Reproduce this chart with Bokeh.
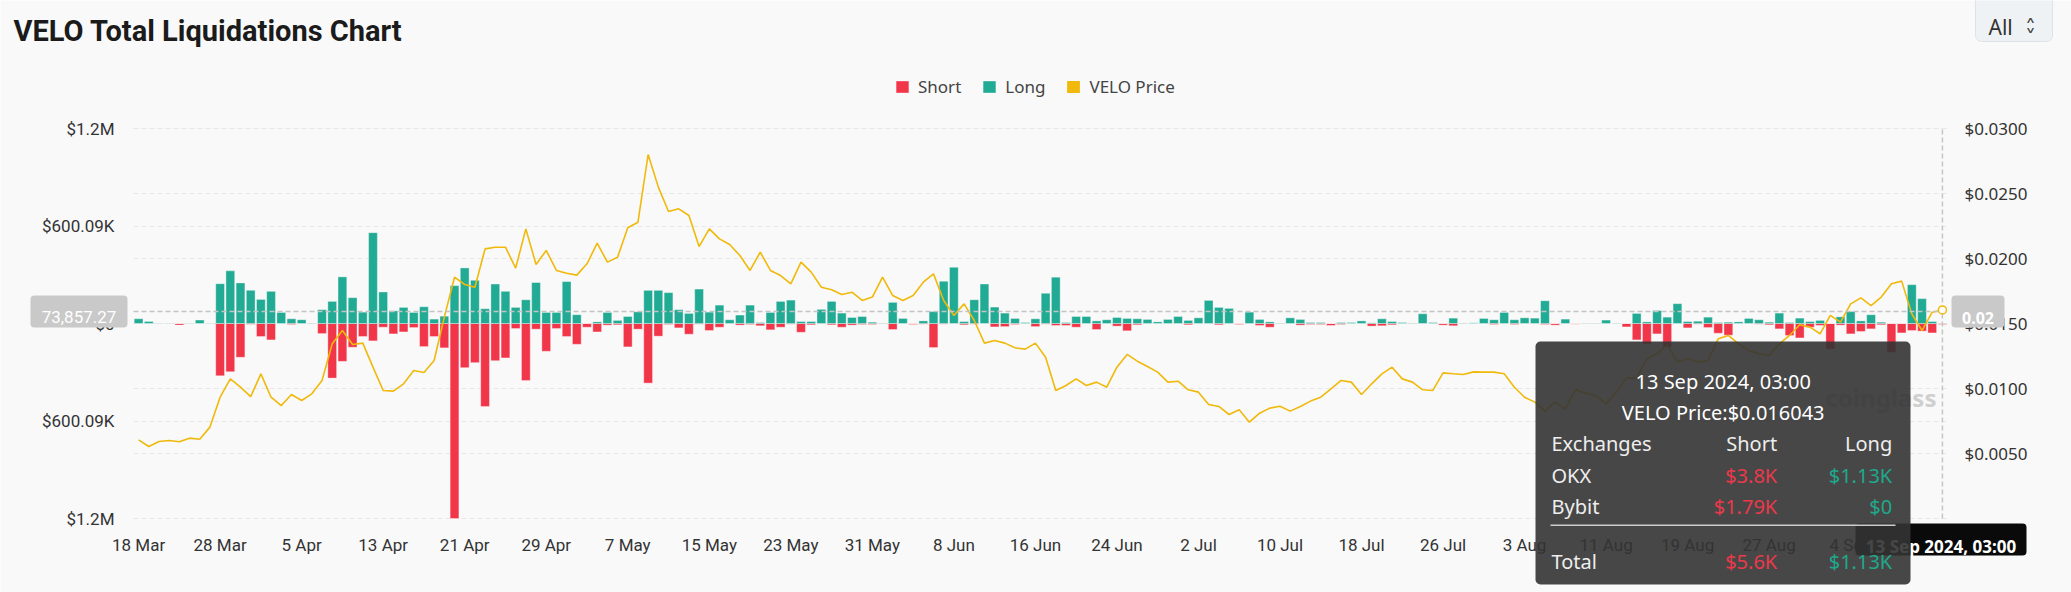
import pandas as pd
from bokeh.plotting import figure
from bokeh.models import (Range1d, LinearAxis, FixedTicker, NumeralTickFormatter, Grid,
                          Label, BoxAnnotation, Legend, LegendItem, ColumnDataSource)
from bokeh.embed import file_html
from bokeh.resources import INLINE

# ---------------- data ----------------
EARLY_DATES = ["2024-03-18", "2024-03-19", "2024-03-20", "2024-03-21",
               "2024-03-22", "2024-03-24", "2024-03-25", "2024-03-27"]
DAILY_START, DAILY_END = "2024-03-28", "2024-09-13"

# long liquidations, $K
LONG_K = [
    29, 12, 2, 1, 0, 2, 21, 2, 245, 324, 250, 204, 148, 198, 68, 29, 23, 2, 85, 136,
    287, 159, 70, 559, 194, 78, 99, 68, 103, 27, 45, 233, 342, 266, 91, 243, 198, 99, 146, 252,
    68, 68, 258, 54, 0, 10, 68, 19, 43, 72, 204, 204, 190, 85, 62, 212, 70, 113, 23, 52,
    113, 6, 68, 136, 144, 12, 12, 87, 136, 64, 37, 43, 8, 2, 130, 31, 0, 16, 74, 260,
    346, 12, 146, 243, 101, 64, 31, 6, 29, 186, 285, 6, 43, 43, 16, 23, 37, 31, 29, 25,
    10, 25, 43, 19, 35, 142, 99, 93, 0, 70, 25, 10, 2, 35, 25, 6, 6, 0, 6, 6,
    16, 4, 29, 12, 6, 2, 60, 6, 0, 33, 2, 4, 31, 23, 68, 23, 35, 33, 140, 0,
    27, 0, 2, 2, 21, 2, 0, 62, 10, 80, 39, 122, 12, 14, 39, 6, 8, 10, 31, 23,
    8, 64, 6, 33, 12, 19, 0, 41, 74, 16, 54, 8, 0, 0, 239, 153, 12, 1.13,
]
# short liquidations, $K
SHORT_K = [
    0, 0, 1, 1, 10, 1, 0, 1, 322, 297, 208, 4, 80, 101, 0, 6, 0, 2, 62, 336,
    233, 146, 80, 107, 23, 64, 52, 25, 142, 80, 150, 1200.18, 272, 241, 511, 229, 212, 31, 351, 35,
    171, 31, 80, 128, 23, 52, 10, 8, 144, 35, 367, 78, 6, 27, 66, 4, 43, 23, 0, 10,
    6, 14, 39, 23, 4, 54, 8, 1, 8, 23, 10, 6, 6, 2, 37, 0, 6, 4, 148, 4,
    0, 8, 4, 0, 21, 19, 6, 0, 19, 4, 12, 12, 23, 0, 37, 0, 16, 45, 8, 0,
    0, 0, 0, 8, 0, 0, 8, 0, 6, 0, 12, 23, 2, 0, 10, 6, 6, 12, 6, 0,
    0, 16, 14, 8, 0, 2, 0, 0, 10, 14, 2, 0, 0, 6, 0, 6, 0, 0, 6, 10,
    0, 4, 1, 1, 0, 1, 21, 101, 126, 64, 146, 0, 27, 4, 25, 60, 72, 0, 0, 4,
    8, 33, 74, 89, 23, 12, 157, 10, 64, 49, 33, 8, 177, 58, 43, 47, 58, 5.6,
]
# VELO price, $
PRICE = [
    0.00605, 0.00554, 0.00592, 0.0060, 0.0059, 0.00618, 0.0061, 0.00703, 0.00933, 0.01074,
    0.0101, 0.00938, 0.01113, 0.00933, 0.00869, 0.00954, 0.00908, 0.00959, 0.01062, 0.01344,
    0.01446, 0.01338, 0.01349, 0.01164, 0.00985, 0.0098, 0.01036, 0.01138, 0.01123, 0.01215,
    0.01549, 0.01856, 0.0180, 0.01779, 0.02074, 0.02087, 0.02087, 0.01926, 0.02228, 0.01954,
    0.02062, 0.01908, 0.01887, 0.01872, 0.01959, 0.02118, 0.01972, 0.0201, 0.02236, 0.02279,
    0.0280, 0.02549, 0.02362, 0.02382, 0.02331, 0.02092, 0.02228, 0.02151, 0.02108, 0.02023,
    0.01908, 0.02049, 0.01908, 0.01869, 0.01805, 0.01972, 0.01895, 0.01779, 0.01759, 0.01723,
    0.01741, 0.01677, 0.01703, 0.01856, 0.01715, 0.01677, 0.01715, 0.01818, 0.01882, 0.01677,
    0.01562, 0.01651, 0.01523, 0.01349, 0.01369, 0.01349, 0.01313, 0.01303, 0.01349, 0.01241,
    0.00985, 0.01023, 0.01074, 0.01023, 0.01049, 0.0101, 0.01164, 0.01262, 0.0121, 0.01169,
    0.01126, 0.01049, 0.01056, 0.0099, 0.00972, 0.00877, 0.00862, 0.0080, 0.00836, 0.00741,
    0.0081, 0.00849, 0.00864, 0.00826, 0.00862, 0.00903, 0.00933, 0.00997, 0.01062, 0.01049,
    0.00954, 0.01036, 0.01113, 0.01164, 0.01074, 0.01049, 0.0099, 0.00985, 0.0112, 0.01113,
    0.01108, 0.01128, 0.01126, 0.01126, 0.01113, 0.0101, 0.00933, 0.00895, 0.00826, 0.00895,
    0.00844, 0.0099, 0.00964, 0.00946, 0.00882, 0.00972, 0.01082, 0.0108, 0.01228, 0.01267,
    0.01338, 0.01203, 0.01228, 0.01203, 0.01215, 0.01382, 0.01408, 0.01344, 0.01292, 0.01267,
    0.01254, 0.01344, 0.01408, 0.0149, 0.01472, 0.01421, 0.01562, 0.0151, 0.01651, 0.01697,
    0.01638, 0.01703, 0.01805, 0.01826, 0.01574, 0.01446, 0.01587, 0.016043,
]

LEFT_TICKS = [-1200180, -600090, 0, 600090, 1200180]
LEFT_TICK_LABELS = ["$1.2M", "$600.09K", "$0", "$600.09K", "$1.2M"]
PRICE_MAX = 0.03
RIGHT_TICKS = [0.005, 0.010, 0.015, 0.020, 0.025, 0.030]
X_LABEL_EVERY = 8
X_LABEL_LAST = 168

CROSS_VALUE = 73857.27
CROSS_VALUE_TEXT = "73,857.27"
CROSS_PRICE_TEXT = "0.02"
HOVER_TIME = "13 Sep 2024, 03:00"
TOOLTIP_ROWS = [("OKX", "$3.8K", "$1.13K"), ("Bybit", "$1.79K", "$0")]
TOOLTIP_TOTAL = ("Total", "$5.6K", "$1.13K")

CATEGORIES = [pd.Timestamp(d) for d in EARLY_DATES] + list(pd.date_range(DAILY_START, DAILY_END))
N = len(CATEGORIES)
assert len(LONG_K) == N and len(SHORT_K) == N and len(PRICE) == N

# ---------------- layout (page pixels) ----------------
PAGE_L, PAGE_T, W, H = 0, 0, 2071, 592
PAGE_R, PAGE_B = PAGE_L + W, PAGE_T + H
PLOT_L, PLOT_R, PLOT_T, PLOT_B = 133, 1947, 128, 518

BG = "#f9f9f9"
RED = "#f2364a"
GREEN = "#22ab94"
YELLOW = "#f0b90b"
AX_TEXT = "#333333"
GRID = "#e8e8e8"

# the whole canvas is the frame; the plot region is mapped by extending the ranges
xu = (PLOT_R - PLOT_L) / N
x_start = -0.5 - (PLOT_L - PAGE_L) / xu
x_end = N - 0.5 + (PAGE_R - PLOT_R) / xu
ymin, ymax = LEFT_TICKS[0], LEFT_TICKS[-1]
yu = (ymax - ymin) / (PLOT_B - PLOT_T)
pu = PRICE_MAX / (PLOT_B - PLOT_T)

src = ColumnDataSource(dict(
    x=list(range(N)),
    long=[v * 1000 for v in LONG_K],
    neg_short=[-v * 1000 for v in SHORT_K],
    price=PRICE,
))

p = figure(width=W, height=H, output_backend="svg", toolbar_location=None, title=None,
           x_range=Range1d(x_start, x_end),
           y_range=Range1d(ymin - (PAGE_B - PLOT_B) * yu, ymax + (PLOT_T - PAGE_T) * yu),
           min_border=0, background_fill_color=BG, border_fill_color=BG,
           outline_line_color=None)
p.extra_y_ranges = {"price": Range1d(-(PAGE_B - PLOT_B) * pu, PRICE_MAX + (PLOT_T - PAGE_T) * pu)}

la = p.yaxis[0]
xa = p.xaxis[0]
la.fixed_location = -0.5
xa.fixed_location = ymin
la.ticker = FixedTicker(ticks=LEFT_TICKS)
la.major_label_overrides = dict(zip(LEFT_TICKS, LEFT_TICK_LABELS))
for ax in (la, xa):
    ax.axis_line_color = None
    ax.major_tick_line_color = None
    ax.minor_tick_line_color = None
    ax.major_label_text_font = "Roboto"
    ax.major_label_text_font_size = "17px"
    ax.major_label_text_color = AX_TEXT
la.major_label_standoff = 13
xa.major_label_standoff = 10
xt = list(range(0, X_LABEL_LAST + 1, X_LABEL_EVERY))
xa.ticker = FixedTicker(ticks=xt)
xa.major_label_overrides = {i: f"{CATEGORIES[i].day} {CATEGORIES[i].strftime('%b')}" for i in xt}

ra = LinearAxis(y_range_name="price", fixed_location=N - 0.5, ticker=FixedTicker(ticks=RIGHT_TICKS),
                formatter=NumeralTickFormatter(format="$0.0000"),
                axis_line_color=None, major_tick_line_color=None, minor_tick_line_color=None,
                major_label_standoff=11, major_label_text_font="Noto Sans",
                major_label_text_font_size="17px", major_label_text_color=AX_TEXT)
p.add_layout(ra, "right")

# grids limited to the plot region
p.xgrid.visible = False
p.ygrid.visible = False
has_cb = "cross_bounds" in Grid.properties()
g1 = Grid(dimension=1, ticker=FixedTicker(ticks=LEFT_TICKS), grid_line_color=GRID, grid_line_dash="5 3")
g2 = Grid(dimension=1, ticker=FixedTicker(ticks=RIGHT_TICKS), y_range_name="price",
          grid_line_color=GRID, grid_line_dash="5 3")
if has_cb:
    g1.cross_bounds = (-0.5, N - 0.5)
    g2.cross_bounds = (-0.5, N - 0.5)
    p.add_layout(g1)
    p.add_layout(g2)
else:
    p.segment(x0=-0.5, x1=N - 0.5, y0=LEFT_TICKS, y1=LEFT_TICKS, line_color=GRID, line_dash="5 3")
    p.segment(x0=-0.5, x1=N - 0.5, y0=RIGHT_TICKS, y1=RIGHT_TICKS, y_range_name="price",
              line_color=GRID, line_dash="5 3")

# bars + line
r_short = p.vbar(x="x", top=0, bottom="neg_short", width=0.86, source=src,
                 fill_color=RED, line_color="white", line_alpha=0.35)
r_long = p.vbar(x="x", top="long", bottom=0, width=0.86, source=src,
                fill_color=GREEN, line_color="white", line_alpha=0.35)
p.line(x="x", y="price", source=src, y_range_name="price", line_color=YELLOW, line_width=1.6)
# legend swatch for the price series (zero-width bars draw nothing on the plot)
r_icon = p.vbar(x="x", top="price", bottom="price", width=0, source=src, y_range_name="price",
                fill_color=YELLOW, line_color=None)

# crosshair
p.segment(x0=-0.5, x1=N - 0.5, y0=CROSS_VALUE, y1=CROSS_VALUE, line_color="#c4c4c4",
          line_dash="5 3", line_width=1.5)
p.segment(x0=N - 1, x1=N - 1, y0=ymin, y1=ymax, line_color="#c4c4c4", line_dash="5 3", line_width=1.5)
p.scatter(x=[N - 1], y=[PRICE[-1]], y_range_name="price", size=8, fill_color="white",
          line_color=YELLOW, line_width=1.5)

legend = Legend(items=[LegendItem(label="Short", renderers=[r_short]),
                       LegendItem(label="Long", renderers=[r_long]),
                       LegendItem(label="VELO Price", renderers=[r_icon])],
                orientation="horizontal", location=(894 - PAGE_L, PAGE_B - 98),
                background_fill_alpha=0, border_line_color=None, padding=0, margin=0,
                spacing=20, label_standoff=8, glyph_width=16, glyph_height=15,
                label_height=15, label_text_font="Noto Sans", label_text_font_size="17px",
                label_text_color="#444444")
p.add_layout(legend, "center")


# ---------------- overlay helpers (page px -> canvas screen px) ----------------
def box(x0, x1, y0, y1, color, alpha=1.0, radius=0, line=None):
    p.add_layout(BoxAnnotation(left=x0 - PAGE_L, right=x1 - PAGE_L, top=PAGE_B - y0, bottom=PAGE_B - y1,
                               left_units="screen", right_units="screen",
                               top_units="screen", bottom_units="screen",
                               fill_color=color, fill_alpha=alpha, line_color=line,
                               line_alpha=1.0 if line else 0, border_radius=radius))


def text(x, y, s, size, color, font="Noto Sans", align="left", style="normal"):
    p.add_layout(Label(x=x - PAGE_L, y=PAGE_B - y, x_units="screen", y_units="screen", text=s,
                       text_font=font, text_font_size=f"{size}px", text_color=color,
                       text_align=align, text_baseline="alphabetic", text_font_style=style))


# title and selector
text(13, 30, "VELO Total Liquidations Chart", 29, "#1b1b1b", font="Roboto", style="bold")
box(1975, 2052, -6, 41, "#eef2f4", radius=6, line="#dde3e8")
text(1988, 26, "All", 21, "#333333")
text(2030, 27, "\u02c4", 22, "#444444", font="DejaVu Sans", align="center")
text(2030, 37, "\u02c5", 22, "#444444", font="DejaVu Sans", align="center")

# axis pointer labels
box(30, 127, 295, 327, "#c9c9c9", radius=4)
text(78.5, 316, CROSS_VALUE_TEXT, 17, "white", font="Roboto", align="center")
box(1951, 2004, 295, 327, "#c9c9c9", radius=4)
text(1977.5, 317, CROSS_PRICE_TEXT, 16, "white", align="center", style="bold")
box(1855, 2026, 523, 555, "#0a0a0a", radius=4)
text(1940.5, 545.5, HOVER_TIME, 17, "white", align="center", style="bold")

# watermark
text(1825, 397, "coinglass", 24, "#cfcfcf", style="bold")

# tooltip
box(1535, 1910, 341, 584, "#333333", alpha=0.9, radius=5)
text(1722.7, 380.7, HOVER_TIME, 20, "white", align="center")
text(1722.7, 411.7, f"VELO Price:${PRICE[-1]:.6f}", 20, "white", align="center")
text(1551, 443.3, "Exchanges", 20, "#eeeeee")
text(1776.7, 443.3, "Short", 20, "#eeeeee", align="right")
text(1891.7, 443.3, "Long", 20, "#eeeeee", align="right")
for k, (ex, s, l) in enumerate(TOOLTIP_ROWS):
    yb = 475 + k * 30.7
    text(1551, yb, ex, 20, "#eeeeee")
    text(1776.7, yb, s, 20, "#eb394b", align="right")
    text(1891.7, yb, l, 20, "#1fa98c", align="right")
box(1550, 1895, 524, 525.5, "#cccccc")
text(1551, 561.3, TOOLTIP_TOTAL[0], 20, "#eeeeee")
text(1776.7, 561.3, TOOLTIP_TOTAL[1], 20, "#eb394b", align="right")
text(1891.7, 561.3, TOOLTIP_TOTAL[2], 20, "#1fa98c", align="right")

html = file_html(p, INLINE)
html = html.replace("<body>", f'<body style="background:{BG};">', 1)
open("out.html", "w").write(html)
